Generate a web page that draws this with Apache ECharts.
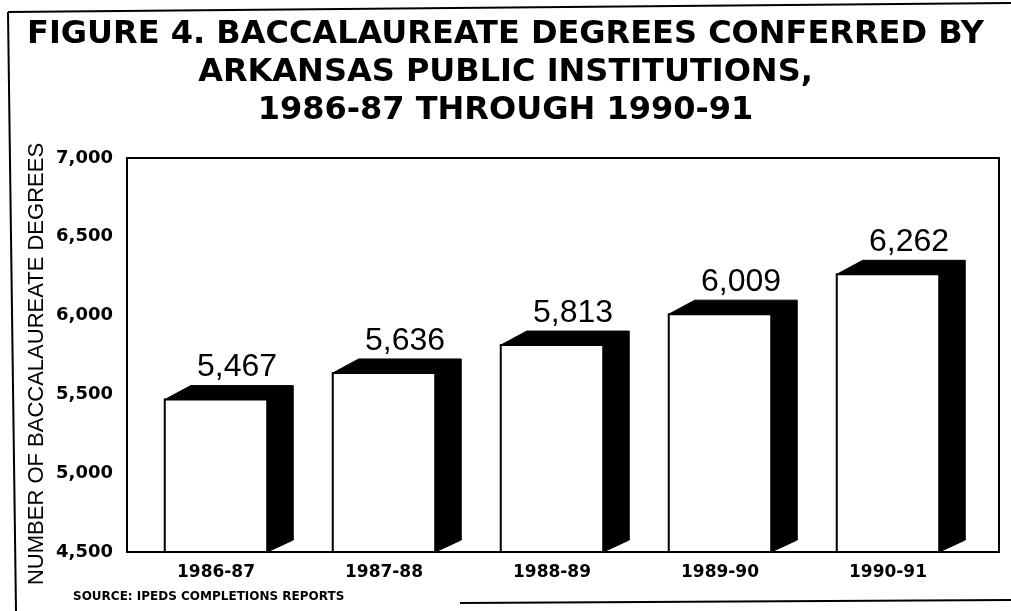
<!DOCTYPE html>
<html>
<head>
<meta charset="utf-8">
<script src="https://cdn.jsdelivr.net/npm/echarts@6/dist/echarts.min.js"></script>
<style>
html,body{margin:0;padding:0;background:#fff;}
#chart{width:1011px;height:611px;}
</style>
</head>
<body>
<div id="chart"></div>
<script>
const titleText = 'FIGURE 4. BACCALAUREATE DEGREES CONFERRED BY\nARKANSAS PUBLIC INSTITUTIONS,\n1986-87 THROUGH 1990-91';
const sourceText = 'SOURCE: IPEDS COMPLETIONS REPORTS';
const yAxisName = 'NUMBER OF BACCALAUREATE DEGREES';
const categories = ['1986-87', '1987-88', '1988-89', '1989-90', '1990-91'];
const degrees = [5467, 5636, 5813, 6009, 6262];
const yMin = 4500, yMax = 7000, yStep = 500;

const chart = echarts.init(document.getElementById('chart'), null, {renderer: 'canvas'});

const DX = 26, DY = 14;
function renderBar(params, api) {
  const i = api.value(0), v = api.value(1);
  const top = api.coord([i, v]);
  const base = api.coord([i, yMin]);
  const bw = api.size([1, 0])[0] * 0.61;
  const x0 = top[0] - bw / 2, x1 = top[0] + bw / 2;
  const ty = top[1], by = base[1];
  return {
    type: 'group',
    children: [
      {type: 'polygon', shape: {points: [[x0, ty], [x0 + DX, ty - DY], [x1 + DX, ty - DY], [x1 + DX, by - DY + 2], [x1, by]]},
       style: {fill: '#000', stroke: '#000', lineWidth: 1}},
      {type: 'rect', shape: {x: x0, y: ty, width: bw, height: by - ty},
       style: {fill: '#fff', stroke: '#000', lineWidth: 2}},
      {type: 'text', x: (x0 + x1) / 2 + 21, y: ty - DY - 2,
       style: {text: v.toLocaleString('en-US'), font: '32px "Liberation Sans", Arial, sans-serif',
               fill: '#000', align: 'center', verticalAlign: 'bottom'}}
    ]
  };
}

chart.setOption({
  backgroundColor: '#fff',
  animation: false,
  title: [
    {text: titleText, left: 'center', top: 11,
     textStyle: {fontFamily: '"DejaVu Sans", sans-serif', fontWeight: 'bold', fontSize: 32, lineHeight: 38, color: '#000'}},
    {text: sourceText, left: 68, top: 586,
     textStyle: {fontFamily: '"DejaVu Sans", sans-serif', fontWeight: 'bold', fontSize: 12, color: '#000'}}
  ],
  grid: [
    {left: 132, right: 39, top: 158, bottom: 59, show: false},
    {left: 127, right: 12, top: 158, bottom: 59, show: true, borderColor: '#000', borderWidth: 2, backgroundColor: 'transparent'}
  ],
  xAxis: [
    {type: 'category', data: categories, gridIndex: 0, boundaryGap: true,
     axisLine: {show: false}, axisTick: {show: false},
     axisLabel: {margin: 12, color: '#000', fontFamily: '"DejaVu Sans", sans-serif', fontWeight: 'bold', fontSize: 17}},
    {type: 'value', gridIndex: 1, show: false, min: 0, max: 1}
  ],
  yAxis: [
    {type: 'value', gridIndex: 0, min: yMin, max: yMax, interval: yStep,
     name: yAxisName, nameLocation: 'middle', nameRotate: 90, nameGap: 84, nameMoveOverlap: false,
     nameTextStyle: {fontFamily: '"Liberation Sans", Arial, sans-serif', fontSize: 22, color: '#000', padding: [0, 18, 0, 0]},
     axisLine: {show: false}, axisTick: {show: false}, splitLine: {show: false},
     axisLabel: {margin: 19, color: '#000', fontFamily: '"DejaVu Sans", sans-serif', fontWeight: 'bold', fontSize: 18,
                 formatter: v => v.toLocaleString('en-US')}},
    {type: 'value', gridIndex: 1, show: false, min: 0, max: 1}
  ],
  series: [
    {type: 'custom', xAxisIndex: 0, yAxisIndex: 0, renderItem: renderBar,
     data: categories.map((c, i) => [i, degrees[i]]), z: 5}
  ],
  graphic: [
    {type: 'polyline', shape: {points: [[8, 12], [1011, 3]]}, style: {stroke: '#000', lineWidth: 2}},
    {type: 'polyline', shape: {points: [[8, 12], [16, 611]]}, style: {stroke: '#000', lineWidth: 2}},
    {type: 'polyline', shape: {points: [[460, 603], [1011, 600]]}, style: {stroke: '#000', lineWidth: 2}}
  ]
});
</script>
</body>
</html>
